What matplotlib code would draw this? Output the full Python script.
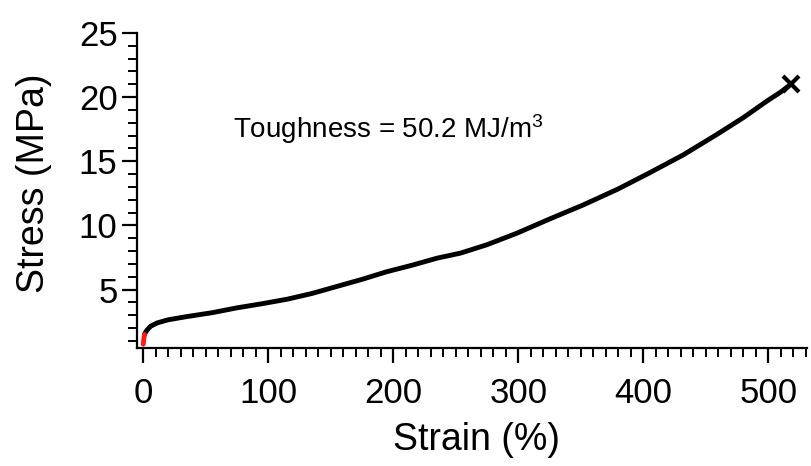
import matplotlib
matplotlib.use("Agg")
import matplotlib.pyplot as plt
from matplotlib.ticker import MultipleLocator

plt.rcParams['font.family'] = ['Liberation Sans', 'DejaVu Sans']
plt.rcParams['mathtext.fontset'] = 'custom'
plt.rcParams['mathtext.rm'] = 'Liberation Sans'
plt.rcParams['mathtext.it'] = 'Liberation Sans:italic'

# Data
strain = [1, 2, 3.2, 6, 11, 20, 35, 55, 75, 95, 115, 135, 155, 175, 195, 215,
          235, 254, 275, 299, 325, 352, 380, 405, 432, 459, 480, 499, 510, 518]
stress = [1.5, 1.7, 1.87, 2.15, 2.4, 2.65, 2.9, 3.2, 3.58, 3.9, 4.25, 4.7, 5.25,
          5.8, 6.4, 6.9, 7.45, 7.85, 8.5, 9.4, 10.5, 11.6, 12.85, 14.1, 15.5, 17.1,
          18.4, 19.7, 20.4, 21.0]
start_strain = [0, 0.3, 0.6, 1.0]
start_stress = [0.75, 1.0, 1.25, 1.5]
break_strain = [518]
break_stress = [21.0]
annotation = r"Toughness = 50.2 MJ/m$^3$"

fig = plt.figure(figsize=(8.11, 4.66), dpi=100)
ax = fig.add_axes([137/811, 1-348/466, 670/811, 315/466])

ax.plot(strain, stress, color='black', lw=3.5, solid_capstyle='round')
ax.plot(start_strain, start_stress, color='#ff1a1a', lw=3.5, solid_capstyle='round')
ax.plot(break_strain, break_stress, marker='x', color='black', ms=11, mew=3, ls='none')

ax.set_xlim(-5, 531)
ax.set_ylim(0.45, 25)

ax.xaxis.set_major_locator(MultipleLocator(100))
ax.xaxis.set_minor_locator(MultipleLocator(10))
ax.yaxis.set_major_locator(MultipleLocator(5))
ax.yaxis.set_minor_locator(MultipleLocator(1))
ax.set_yticks([5, 10, 15, 20, 25])

for s in ['top', 'right']:
    ax.spines[s].set_visible(False)
for s in ['left', 'bottom']:
    ax.spines[s].set_linewidth(1.6)

ax.tick_params(which='major', length=11, width=1.6, labelsize=25, direction='out')
ax.tick_params(which='minor', length=6.5, width=1.4, direction='out')
ax.tick_params(axis='x', which='major', pad=10)
ax.tick_params(axis='y', which='major', pad=3)

ax.set_xlabel('Strain (%)', fontsize=27)
ax.set_ylabel('Stress (MPa)', fontsize=27)
ax.xaxis.set_label_coords(0.506, -0.235)
ax.yaxis.set_label_coords(-0.127, 0.524)

ax.text(72, 16.8, annotation, fontsize=20, ha='left', va='baseline')

fig.savefig('out.png', dpi=100)
